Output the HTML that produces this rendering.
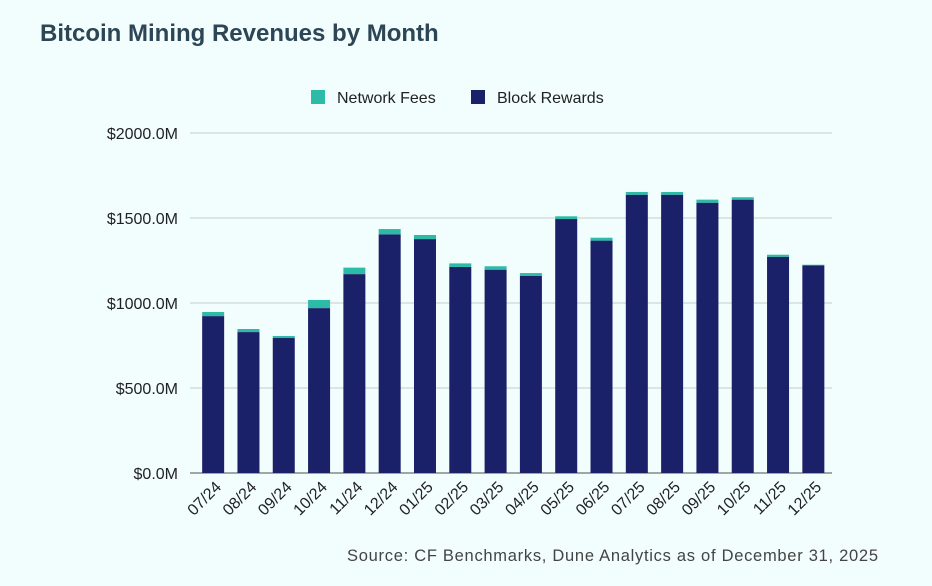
<!DOCTYPE html>
<html><head><meta charset="utf-8"><style>
body{margin:0;background:#f2fdfd;}
svg{display:block;font-family:"Liberation Sans",sans-serif;}
</style></head><body>
<svg width="932" height="586">
<rect width="932" height="586" fill="#f2fdfd"/>
<text x="40" y="41" font-size="24" font-weight="bold" fill="#2d4656">Bitcoin Mining Revenues by Month</text>
<g>
<rect x="311" y="90" width="14" height="14" fill="#2bbba6"/>
<text x="337" y="103" font-size="16" fill="#222">Network Fees</text>
<rect x="471" y="90" width="14" height="14" fill="#1b2168"/>
<text x="497" y="103" font-size="16" fill="#222">Block Rewards</text>
</g>
<g id="grid"></g><g id="bars"></g><g id="xl"></g>
<text x="878" y="561" font-size="16.5" fill="#444" text-anchor="end" textLength="531">Source: CF Benchmarks, Dune Analytics as of December 31, 2025</text>
</svg>
<script>
const categories=["07/24","08/24","09/24","10/24","11/24","12/24","01/25","02/25","03/25","04/25","05/25","06/25","07/25","08/25","09/25","10/25","11/25","12/25"];
const blockRewards=[923,829,794,970,1170,1404,1376,1212,1196,1159,1494,1367,1637,1637,1590,1608,1272,1221];
const networkFees=[24,18,12,48,38,31,24,21,20,17,16,17,16,16,18,14,12,4];
const yTicks=[0,500,1000,1500,2000];
const NS="http://www.w3.org/2000/svg";
const gx0=190,gx1=832,x0=195.5,x1=831,y0=473,y1=133,yMax=2000;
const y=v=>y0-(v/yMax)*(y0-y1);
const pitch=(x1-x0)/categories.length;
const bx=i=>x0+pitch*i+pitch/2;
function mk(t,a,p){const e=document.createElementNS(NS,t);for(const k in a)e.setAttribute(k,a[k]);p.appendChild(e);return e;}
const g=document.getElementById('grid');
yTicks.forEach(t=>{
 const l=mk('line',{x1:gx0,x2:gx1,y1:y(t),y2:y(t),stroke:t===0?'#888':'#d5dcdc','stroke-width':1.5},g);
 
 
 const tx=mk('text',{x:178,y:y(t)+6,'text-anchor':'end','font-size':16,fill:'#222'},g);
 tx.textContent='$'+t.toFixed(1)+'M';
 
 
});
const b=document.getElementById('bars'),xl=document.getElementById('xl');
categories.forEach((c,i)=>{
 const w=22,cx=bx(i);
 const r=mk('rect',{x:cx-w/2,y:y(blockRewards[i]),width:w,height:y0-y(blockRewards[i]),fill:'#1b2168'},b);
 
 
 const tot=blockRewards[i]+networkFees[i];
 const f=mk('rect',{x:cx-w/2,y:y(tot),width:w,height:y(blockRewards[i])-y(tot),fill:'#2bbba6'},b);
 
 
 const t=mk('text',{x:cx+9,y:488,'text-anchor':'end','font-size':16,fill:'#222',transform:`rotate(-45 ${cx+9} 488)`},xl);
 t.textContent=c;
 
 
});
</script>
</body></html>
